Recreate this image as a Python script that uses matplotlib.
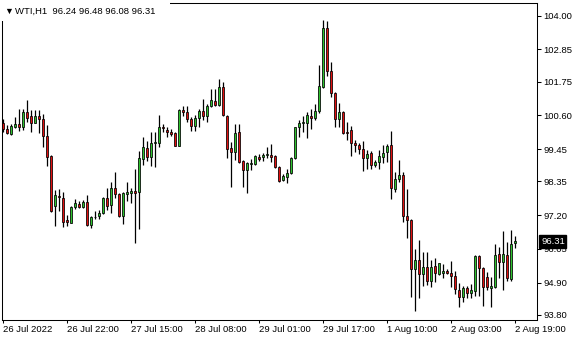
import matplotlib
matplotlib.use("Agg")
import matplotlib.pyplot as plt
from matplotlib.patches import Rectangle
from matplotlib.transforms import blended_transform_factory

# WTI H1 candles, 26 Jul 2022 -> 2 Aug 2022 19:00
opens = [100.33, 100.14, 99.98, 100.22, 100.30, 100.22, 100.73, 100.58, 100.35, 100.58,
         100.48, 99.90, 99.22, 97.52, 97.87, 97.78, 97.04, 96.95, 97.49, 97.58,
         97.49, 97.64, 96.87, 97.13, 97.18, 97.27, 97.78, 97.55, 98.12, 97.92,
         97.17, 97.94, 97.95, 98.04, 97.98, 99.11, 99.48, 99.17, 99.65, 99.67,
         100.20, 100.09, 100.03, 100.01, 99.57, 100.79, 100.71, 100.47, 100.25, 100.50,
         100.75, 100.58, 100.92, 101.10, 100.96, 101.56, 100.58, 99.48, 99.34, 100.03,
         99.05, 98.74, 98.95, 98.93, 99.17, 99.17, 99.25, 99.25, 99.22, 98.83,
         98.40, 98.51, 98.63, 99.14, 100.20, 100.33, 100.35, 100.58, 100.50, 100.75,
         101.58, 103.57, 102.13, 101.36, 100.47, 100.71, 100.05, 100.10, 99.67, 99.59,
         99.45, 99.16, 99.33, 98.91, 99.00, 99.19, 99.34, 99.59, 98.08, 98.42,
         98.57, 97.18, 97.04, 95.36, 95.67, 95.19, 95.43, 94.96, 95.47, 95.20,
         95.22, 95.30, 95.22, 95.13, 94.65, 94.40, 94.71, 94.54, 94.62, 95.81,
         95.39, 95.08, 94.71, 94.76, 95.88, 95.62, 95.84, 95.03, 96.24]
highs = [100.48, 100.27, 100.30, 100.55, 100.82, 100.82, 101.13, 100.79, 100.79, 100.79,
         100.64, 100.27, 99.25, 98.06, 98.08, 97.98, 97.21, 97.51, 97.75, 97.68,
         97.72, 97.89, 97.18, 97.34, 97.38, 97.82, 98.12, 98.34, 98.66, 97.95,
         98.00, 98.32, 98.12, 98.78, 99.39, 99.86, 99.74, 100.03, 100.03, 100.62,
         100.31, 100.22, 100.13, 100.05, 100.81, 100.92, 100.92, 100.56, 100.62, 100.81,
         101.16, 100.98, 101.50, 101.50, 101.83, 101.75, 100.62, 99.71, 100.31, 100.31,
         99.08, 99.00, 99.11, 99.25, 99.29, 99.31, 99.52, 99.63, 99.25, 98.88,
         98.60, 98.77, 99.18, 100.22, 100.45, 100.58, 100.73, 100.81, 100.99, 102.32,
         103.85, 103.82, 102.41, 101.41, 101.01, 100.74, 100.37, 100.24, 99.76, 99.67,
         99.73, 99.42, 99.39, 99.08, 99.42, 99.59, 99.62, 100.07, 98.68, 99.08,
         98.68, 98.08, 97.07, 96.05, 96.36, 95.96, 95.96, 95.67, 95.73, 95.58,
         95.54, 95.37, 95.64, 95.30, 94.90, 94.79, 94.79, 94.86, 95.84, 95.84,
         95.42, 95.27, 95.08, 96.22, 96.11, 96.67, 96.30, 96.70, 96.48]
lows = [100.05, 99.98, 99.93, 100.18, 100.08, 100.09, 100.37, 100.05, 100.33, 100.00,
        99.53, 98.89, 97.31, 96.84, 97.34, 96.81, 96.83, 96.92, 97.41, 97.45,
        97.46, 96.84, 96.77, 97.07, 97.07, 97.24, 97.38, 97.29, 97.78, 97.13,
        96.90, 97.70, 97.61, 96.24, 96.72, 98.91, 99.06, 98.88, 98.85, 99.53,
        100.05, 99.88, 99.90, 99.56, 99.56, 100.59, 100.39, 100.08, 100.08, 100.22,
        100.45, 100.39, 100.90, 100.92, 100.92, 100.59, 99.14, 98.17, 99.08, 98.99,
        98.15, 97.95, 98.74, 98.91, 99.05, 99.06, 99.14, 99.02, 98.80, 98.34,
        98.37, 98.29, 98.60, 99.11, 99.88, 100.05, 99.82, 100.13, 100.45, 100.67,
        101.53, 101.94, 101.24, 100.22, 100.22, 99.96, 99.76, 99.23, 99.34, 99.28,
        98.72, 98.77, 98.77, 98.83, 98.77, 98.97, 99.02, 97.74, 97.98, 98.34,
        96.96, 96.41, 94.42, 93.95, 94.37, 94.80, 94.82, 94.74, 94.93, 95.16,
        95.05, 95.19, 94.76, 94.50, 94.06, 94.25, 94.37, 94.37, 94.45, 94.45,
        94.11, 94.65, 94.08, 94.71, 95.05, 94.65, 94.97, 94.97, 96.08]
closes = [100.13, 100.01, 100.23, 100.30, 100.21, 100.73, 100.52, 100.35, 100.58, 100.47,
          99.91, 99.19, 97.35, 97.89, 97.81, 96.98, 96.98, 97.49, 97.61, 97.47,
          97.66, 96.87, 97.15, 97.15, 97.29, 97.78, 97.51, 98.12, 97.92, 97.18,
          97.97, 97.98, 98.04, 97.95, 99.14, 99.52, 99.17, 99.65, 99.68, 100.22,
          100.17, 100.05, 99.96, 99.57, 100.79, 100.73, 100.47, 100.24, 100.50, 100.75,
          100.58, 100.92, 101.13, 100.96, 101.56, 100.62, 99.45, 99.34, 99.99, 99.02,
          98.74, 98.97, 98.98, 99.23, 99.13, 99.25, 99.27, 99.19, 98.85, 98.38,
          98.54, 98.65, 99.14, 100.20, 100.35, 100.39, 100.62, 100.50, 100.75, 101.60,
          103.57, 102.13, 101.36, 100.47, 100.71, 99.99, 99.99, 99.65, 99.59, 99.45,
          99.16, 99.28, 98.91, 99.02, 99.22, 99.31, 99.57, 98.12, 98.43, 98.57,
          97.18, 97.04, 95.36, 95.67, 95.19, 95.43, 94.96, 95.43, 95.22, 95.56,
          95.30, 95.22, 95.14, 94.67, 94.40, 94.71, 94.54, 94.65, 95.81, 95.39,
          94.74, 94.74, 94.79, 95.84, 95.60, 95.87, 95.05, 96.22, 96.31]

tick_pos = [0, 16, 32, 48, 64, 80, 96, 112, 128]
tick_labels = ["26 Jul 2022", "26 Jul 22:00", "27 Jul 15:00", "28 Jul 08:00", "29 Jul 01:00",
               "29 Jul 17:00", "1 Aug 10:00", "2 Aug 03:00", "2 Aug 19:00"]
price_ticks = [104.00, 102.85, 101.75, 100.60, 99.45, 98.35, 97.20, 96.05, 94.90, 93.80]

plt.rcParams['font.family'] = ['Liberation Sans', 'DejaVu Sans']
FS = 6.8

fig = plt.figure(figsize=(5.8, 3.4), dpi=100)
ax = fig.add_axes([2/580, 20/340, 535/580, 317/340])

x = list(range(len(opens)))
up = [c >= o for o, c in zip(opens, closes)]
colors = ['#2fc22f' if u else '#e01010' for u in up]
bottoms = [min(o, c) for o, c in zip(opens, closes)]
heights = [abs(c - o) for o, c in zip(opens, closes)]

ax.vlines(x, lows, highs, color='black', linewidth=0.9, zorder=2)
ax.bar(x, heights, bottom=bottoms, width=0.7, color=colors, edgecolor='black',
       linewidth=0.55, zorder=3)

ax.set_xlim(-0.25, 133.5)
ax.set_ylim(93.629, 104.433)

ax.yaxis.tick_right()
ax.set_yticks(price_ticks)
ax.set_yticklabels(['%.2f' % p for p in price_ticks], fontsize=FS)
ax.tick_params(axis='y', length=3, width=0.75, pad=1.5, direction='out')

ax.set_xticks(tick_pos)
ax.set_xticklabels(tick_labels, fontsize=FS, ha='left')
ax.tick_params(axis='x', length=2.5, width=0.75, pad=1, direction='out')

for s in ax.spines.values():
    s.set_linewidth(0.75)
    s.set_color('black')

# last price marker
trans = blended_transform_factory(ax.transAxes, ax.transData)
ax.text(1.0 + 4/535, closes[-1], '%.2f' % closes[-1], transform=trans, fontsize=FS,
        color='white', va='center', ha='left', zorder=5,
        bbox=dict(facecolor='black', edgecolor='black', pad=1.2))

# header
fig.patches.append(Rectangle((0, 1 - 21/340), 170/580, 21/340, transform=fig.transFigure,
                             facecolor='white', edgecolor='none', zorder=10))
fig.text(4/580, 1 - 11/340, '▼', fontsize=6.5, va='center', ha='left', zorder=11)
fig.text(15/580, 1 - 11/340, 'WTI,H1  96.24 96.48 96.08 96.31', fontsize=FS,
         va='center', ha='left', zorder=11)

fig.savefig('out.png', dpi=100)
